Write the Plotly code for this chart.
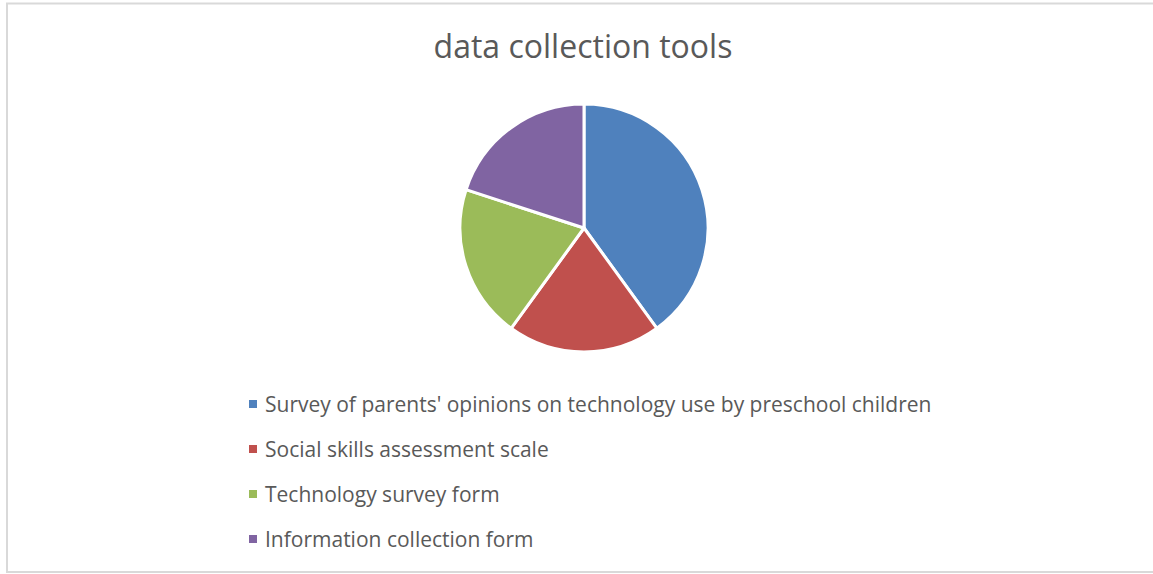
import plotly.graph_objects as go

W, H = 1153, 574

categories = [
    "Survey of parents' opinions on technology use by preschool children",
    "Social skills assessment scale",
    "Technology survey form",
    "Information collection form",
]
values = [2, 1, 1, 1]
colors = ["#4F81BD", "#C0504D", "#9BBB59", "#8064A2"]
title_text = "data collection tools"

FONT = "Open Sans"
TXT = "#595959"

# pie geometry (pixels)
cx, cy, r = 584, 228, 124

fig = go.Figure()
fig.add_trace(go.Pie(
    labels=categories,
    values=values,
    sort=False,
    direction="clockwise",
    rotation=0,
    marker=dict(colors=colors, line=dict(color="white", width=3)),
    textinfo="none",
    hoverinfo="label+percent",
    showlegend=False,
    domain=dict(x=[(cx - r) / W, (cx + r) / W], y=[(H - cy - r) / H, (H - cy + r) / H]),
))

shapes = [dict(type="rect", xref="paper", yref="paper",
               x0=7 / W, x1=1165 / W, y0=1 - 572 / H, y1=1 - 3.5 / H,
               line=dict(color="#D9D9D9", width=2), fillcolor="rgba(0,0,0,0)", layer="below")]
annotations = []
leg_x, leg_y0, leg_dy = 249, 404, 45
for i, (lab, col) in enumerate(zip(categories, colors)):
    yc = leg_y0 + i * leg_dy
    shapes.append(dict(type="rect", xref="paper", yref="paper",
                       x0=leg_x / W, x1=(leg_x + 8) / W,
                       y0=1 - (yc + 4) / H, y1=1 - (yc - 4) / H,
                       line=dict(width=0), fillcolor=col))
    annotations.append(dict(text=lab, xref="paper", yref="paper",
                            x=(leg_x + 14) / W, y=1 - yc / H,
                            xanchor="left", yanchor="middle", showarrow=False,
                            font=dict(family=FONT, size=21, color=TXT)))

fig.update_layout(
    width=W, height=H,
    margin=dict(l=0, r=0, t=0, b=0),
    paper_bgcolor="white",
    plot_bgcolor="white",
    title=dict(text=title_text, x=583 / W, xanchor="center", y=1 - 47 / H, yanchor="middle",
               font=dict(family=FONT, size=32, color=TXT)),
    shapes=shapes,
    annotations=annotations,
)

fig.write_html("out.html",
               config={"displayModeBar": False},
               post_script="document.body.style.margin='0';document.body.style.overflow='hidden';")
